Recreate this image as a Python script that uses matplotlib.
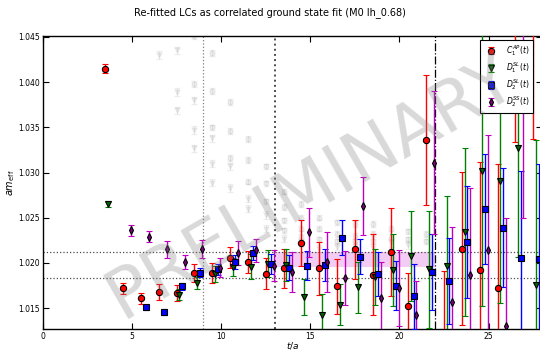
import numpy as np
import matplotlib
matplotlib.use('Agg')
import matplotlib.pyplot as plt

nan = np.nan
t = np.arange(3, 28)

c1ap_val = [1.0415, 1.0172, 1.0161, 1.0168, 1.0167, 1.0189, 1.0189, 1.0206, 1.0201, 1.0188,
            1.0194, 1.0222, 1.0194, 1.0174, 1.0215, 1.0187, 1.0212, 1.0152, 1.0336, 1.0110,
            1.0216, 1.0192, 1.0172, 1.0460, 1.0460]
c1ap_err = [0.0005, 0.0006, 0.0006, 0.0009, 0.0009, 0.0010, 0.0011, 0.0012, 0.0012, 0.0017,
            0.0022, 0.0025, 0.0029, 0.0030, 0.0033, 0.0045, 0.0049, 0.0037, 0.0072, 0.0081,
            0.0085, 0.0120, 0.0137, 0.0126, 0.0123]

d1sl_val = [1.0265, nan, nan, nan, 1.0165, 1.0178, 1.0188, 1.0196, 1.0196, 1.0199,
            1.0198, 1.0162, 1.0143, 1.0154, 1.0173, 1.0184, 1.0192, 1.0208, 1.0193, 1.0197,
            1.0234, 1.0302, 1.0291, 1.0327, 1.0176]
d1sl_err = [0.0003, nan, nan, nan, 0.0006, 0.00065, 0.0009, 0.0010, 0.0014, 0.0015,
            0.0018, 0.0020, 0.0023, 0.0023, 0.0028, 0.0031, 0.0040, 0.0050, 0.0065, 0.0077,
            0.0093, 0.0150, 0.0135, 0.0120, 0.0160]

d2sl_val = [nan, nan, 1.0151, 1.0146, 1.0174, 1.0189, 1.0193, 1.0201, 1.0211, 1.0199,
            1.0195, 1.0197, 1.0198, 1.0228, 1.0207, 1.0188, 1.0175, 1.0163, 1.0190, 1.0180,
            1.0223, 1.0260, 1.0239, 1.0206, 1.0204]
d2sl_err = [nan, nan, 0.0003, 0.0003, 0.0004, 0.0005, 0.0006, 0.0008, 0.0008, 0.0011,
            0.0014, 0.0016, 0.0018, 0.0019, 0.0019, 0.0024, 0.0027, 0.0036, 0.0042, 0.0048,
            0.0062, 0.0061, 0.0066, 0.0096, 0.0105]

d2ss_val = [nan, 1.0236, 1.0229, 1.0215, 1.0201, 1.0215, 1.0195, 1.0211, 1.0214, 1.0197,
            1.0190, 1.0234, 1.0201, 1.0183, 1.0263, 1.0161, 1.0172, 1.0143, 1.0311, 1.0157,
            1.0187, 1.0214, 1.0130, 1.0400, nan]
d2ss_err = [nan, 0.0006, 0.0006, 0.0009, 0.0008, 0.0010, 0.0011, 0.0013, 0.0013, 0.0017,
            0.0022, 0.0027, 0.0033, 0.0030, 0.0032, 0.0040, 0.0042, 0.0037, 0.0079, 0.0083,
            0.0096, 0.0128, 0.0120, 0.0150, nan]

ghost_tri_t = [6, 7, 7, 7, 8, 8, 8, 9, 9, 9, 10, 10, 11, 11, 12, 12, 13, 14, 15, 16, 17, 18, 19, 20]
ghost_tri_v = [1.0430, 1.0435, 1.0389, 1.0369, 1.0380, 1.0347, 1.0327, 1.0338, 1.0310, 1.0289,
               1.0307, 1.0283, 1.0271, 1.0260, 1.0253, 1.0238, 1.0227, 1.0222, 1.0216, 1.0218,
               1.0219, 1.0217, 1.0222, 1.0220]
ghost_circ_t = [8, 8, 9, 9, 9, 10, 10, 10, 11, 11, 11, 12, 12, 12, 13, 13, 13, 13, 14, 14, 14, 14,
                15, 15, 15, 16, 16, 16, 17, 17, 17, 18, 18, 18, 19, 19, 20, 20, 21, 21]
ghost_circ_v = [1.0451, 1.0398, 1.0432, 1.0390, 1.0350, 1.0378, 1.0346, 1.0316, 1.0337, 1.0314,
                1.0290, 1.0307, 1.0288, 1.0268, 1.0279, 1.0262, 1.0247, 1.0236, 1.0265, 1.0250,
                1.0238, 1.0229, 1.0250, 1.0238, 1.0226, 1.0245, 1.0232, 1.0224, 1.0243, 1.0230,
                1.0224, 1.0243, 1.0232, 1.0224, 1.0238, 1.0228, 1.0235, 1.0226, 1.0232, 1.0224]

fit_lo, fit_hi = 1.0196, 1.0212
fit_t0, fit_t1 = 13, 22
hlines = [1.0212, 1.0183]

fig = plt.figure(figsize=(5.4, 3.53), dpi=100)
ax = fig.add_axes([42.7 / 540, 24 / 353, 28 * 17.84 / 540, 293 / 353])

# ghosts
ax.errorbar(np.array(ghost_tri_t) + 0.5, ghost_tri_v, yerr=0.0004, fmt='v', ms=3.5,
            color='gray', mec='gray', alpha=0.13, capsize=2, lw=0.8, zorder=1)
ax.errorbar(np.array(ghost_circ_t) + 0.5, ghost_circ_v, yerr=0.0003, fmt='o', ms=3.5,
            color='gray', mec='gray', alpha=0.13, capsize=2, lw=0.8, zorder=1)

ax.fill_between([fit_t0, fit_t1], fit_lo, fit_hi, color='m', alpha=0.2, lw=0, zorder=1)
for h in hlines:
    ax.axhline(h, ls=':', color='k', lw=0.9, alpha=0.7, zorder=1)
ax.axvline(9, ls=':', color='gray', lw=0.9, zorder=1)
ax.axvline(13, ls=':', color='k', lw=1.4, alpha=0.7, zorder=1)
ax.axvline(22, ls='-.', color='k', lw=0.9, zorder=1)

series = [
    (c1ap_val, c1ap_err, 'o', 'red', 'red', 4.5, r'$C_1^{AP}(t)$'),
    (d1sl_val, d1sl_err, 'v', 'darkgreen', 'green', 5, r'$D_1^{SL}(t)$'),
    (d2sl_val, d2sl_err, 's', 'blue', 'blue', 4.5, r'$D_2^{SL}(t)$'),
    (d2ss_val, d2ss_err, 'd', 'purple', 'm', 4.2, r'$D_2^{SS}(t)$'),
]
for k, (v, e, m, fc, ec, ms, lab) in enumerate(series):
    ax.errorbar(t + 0.5 + 0.15 * k, v, yerr=e, fmt=m, ms=ms, mfc=fc, mec='k', mew=0.8,
                ecolor=ec, elinewidth=1, capsize=2.2, capthick=1, label=lab, zorder=3)

ax.set_xlim(0, 28)
ax.set_ylim(1.0127, 1.0451)
ax.set_xticks([0, 5, 10, 15, 20, 25])
ax.set_yticks([1.015, 1.020, 1.025, 1.030, 1.035, 1.040, 1.045])
ax.yaxis.set_major_formatter(matplotlib.ticker.FormatStrFormatter('%.3f'))
ax.tick_params(direction='in', top=True, right=True, labelsize=5.5, length=4, width=0.8, pad=2)
for s in ax.spines.values():
    s.set_linewidth(1.0)
ax.set_xlabel(r'$t/a$', fontsize=6.5, labelpad=-0.5)
ax.set_ylabel(r'$am_{\rm eff}$', fontsize=7, labelpad=1)
fig.suptitle('Re-fitted LCs as correlated ground state fit (M0 lh_0.68)', fontsize=7, y=0.98)

leg = ax.legend(loc='upper right', bbox_to_anchor=(0.982, 0.988), borderaxespad=0,
                fontsize=5.5, numpoints=1, fancybox=False, framealpha=1, edgecolor='k',
                handletextpad=1.0, labelspacing=0.3, borderpad=0.45)
leg.get_frame().set_linewidth(0.8)
leg.set_zorder(10)

fig.text(0.575, 0.47, 'PRELIMINARY', fontsize=50, color='gray', alpha=0.3,
         rotation=30, ha='center', va='center', zorder=0)

fig.savefig('out.png', dpi=100)
